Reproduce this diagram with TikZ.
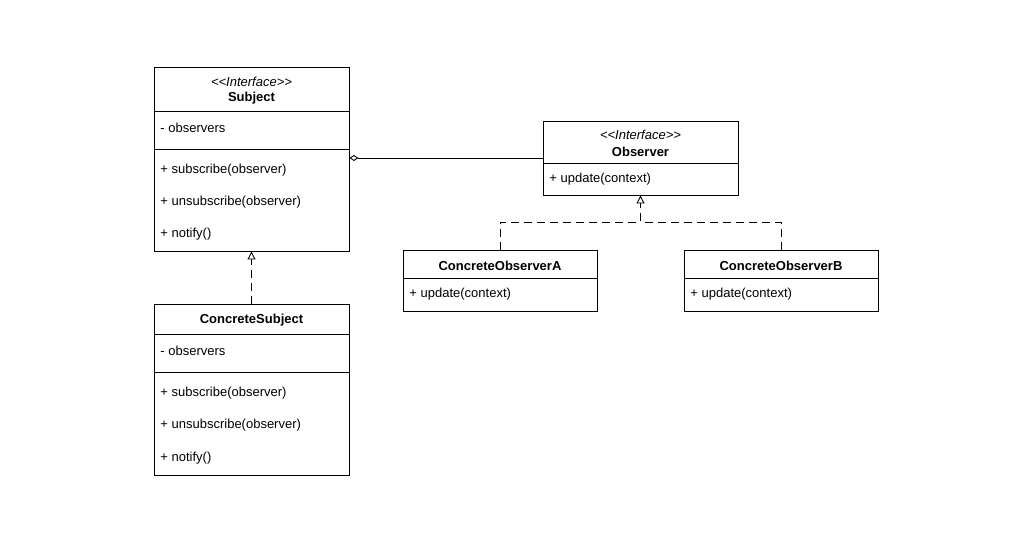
\documentclass[tikz,border=0pt]{standalone}
\usepackage{fontspec}
\setmainfont{Liberation Sans}
\usetikzlibrary{arrows.meta}
\tikzset{
  cls/.style={draw, rectangle, inner sep=0pt},
  member/.style={anchor=west, inner sep=4pt, yshift=-1.5pt},
  title/.style={inner sep=0pt, yshift=-1.5pt, font=\fontsize{13}{15}\selectfont\bfseries},
  stereo/.style={inner sep=0pt, yshift=-1pt, font=\fontsize{13}{15}\selectfont\itshape},
  real/.style={dash pattern=on 8pt off 5pt, -{Triangle[open,length=8pt,width=8pt]}},
  aggr/.style={-{Diamond[open,length=9pt,width=6pt]}}
}
\begin{document}
\begin{tikzpicture}[x=1pt, y=-1pt, line width=0.9pt, font=\fontsize{13}{15}\selectfont]
 \useasboundingbox (0,0) rectangle (1024,551);
 % Subject
 \node[cls, minimum width=195pt, minimum height=184pt] (subject) at (251.5,159) {};
 \draw (subject.west |- 0,111) -- (subject.east |- 0,111);
 \draw (subject.west |- 0,149) -- (subject.east |- 0,149);
 \node[stereo] (subject-st) at (251.5,81) {<\kern0pt<Interface>\kern0pt>};
 \node[title] (subject-t) at (251.5,97) {Subject};
 \node[member] (subject-a1) at (156,126) {- observers};
 \node[member] (subject-m1) at (156,169) {+ subscribe(observer)};
 \node[member] (subject-m2) at (156,201) {+ unsubscribe(observer)};
 \node[member] (subject-m3) at (156,233) {+ notify()};
 % ConcreteSubject
 \node[cls, minimum width=195pt, minimum height=171pt] (csubject) at (251.5,389.5) {};
 \draw (csubject.west |- 0,334) -- (csubject.east |- 0,334);
 \draw (csubject.west |- 0,372) -- (csubject.east |- 0,372);
 \node[title] (csubject-t) at (251.5,319) {ConcreteSubject};
 \node[member] (csubject-a1) at (156,349) {- observers};
 \node[member] (csubject-m1) at (156,392) {+ subscribe(observer)};
 \node[member] (csubject-m2) at (156,424) {+ unsubscribe(observer)};
 \node[member] (csubject-m3) at (156,457) {+ notify()};
 % Observer
 \node[cls, minimum width=195pt, minimum height=74pt] (observer) at (640.5,158) {};
 \draw (observer.west |- 0,163) -- (observer.east |- 0,163);
 \node[stereo] (observer-st) at (640.5,134) {<\kern0pt<Interface>\kern0pt>};
 \node[title] (observer-t) at (640.5,150) {Observer};
 \node[member] (observer-m1) at (545,178) {+ update(context)};
 % ConcreteObserverA
 \node[cls, minimum width=194pt, minimum height=61pt] (cobsA) at (500,280.5) {};
 \draw (cobsA.west |- 0,278) -- (cobsA.east |- 0,278);
 \node[title] (cobsA-t) at (500,264) {ConcreteObserverA};
 \node[member] (cobsA-m1) at (405,293) {+ update(context)};
 % ConcreteObserverB
 \node[cls, minimum width=194pt, minimum height=61pt] (cobsB) at (781,280.5) {};
 \draw (cobsB.west |- 0,278) -- (cobsB.east |- 0,278);
 \node[title] (cobsB-t) at (781,264) {ConcreteObserverB};
 \node[member] (cobsB-m1) at (686,293) {+ update(context)};
 % connectors
 \coordinate (hub) at (observer.south |- 0,222);
 \draw[aggr] (observer.west) -- (observer.west -| subject.east);
 \draw[real] (csubject.north) -- (subject.south);
 \draw[real] (cobsA.north) |- (hub) -- (observer.south);
 \draw[dash pattern=on 8pt off 5pt] (cobsB.north) |- (hub);
\end{tikzpicture}
\end{document}
